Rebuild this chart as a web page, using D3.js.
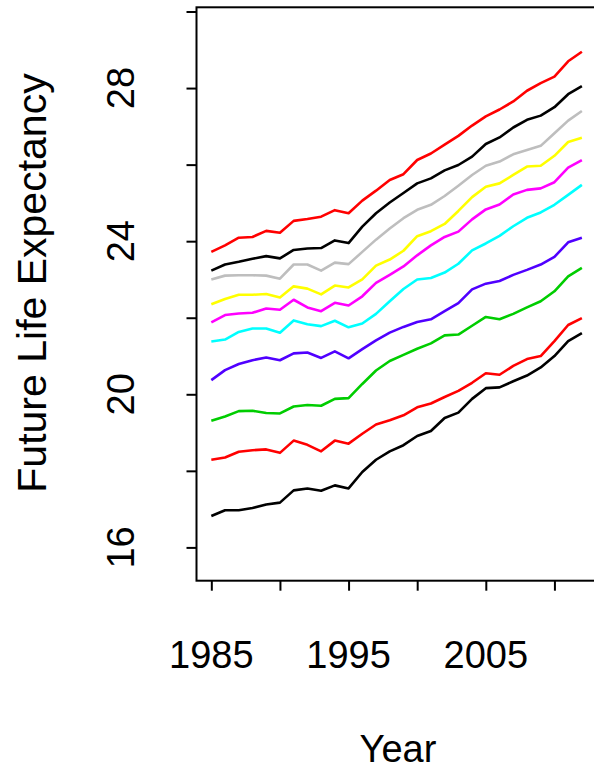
<!DOCTYPE html>
<html>
<head>
<meta charset="utf-8">
<script src="https://cdn.jsdelivr.net/npm/d3@7"></script>
<style>
  html, body { margin: 0; padding: 0; background: #fff; }
  svg { display: block; }
  text { font-family: "Liberation Sans", Arial, sans-serif; fill: #000; }
</style>
</head>
<body>
<svg id="chart" width="594" height="769"></svg>
<script>
// Years observed
const years = d3.range(1985, 2013);

// Future life expectancy per cohort, lowest to highest
const cohort1  = [16.82,16.97,16.97,17.03,17.12,17.17,17.49,17.54,17.48,17.62,17.54,17.97,18.29,18.51,18.67,18.91,19.04,19.38,19.52,19.88,20.16,20.18,20.34,20.49,20.70,21.00,21.39,21.60];
const cohort2  = [18.29,18.35,18.50,18.54,18.56,18.47,18.79,18.68,18.51,18.79,18.71,18.97,19.21,19.32,19.45,19.66,19.76,19.93,20.09,20.30,20.55,20.51,20.74,20.92,21.00,21.39,21.81,21.99];
const cohort3  = [19.31,19.42,19.56,19.57,19.51,19.50,19.68,19.72,19.70,19.88,19.90,20.27,20.62,20.87,21.03,21.19,21.33,21.54,21.56,21.79,22.02,21.96,22.10,22.27,22.43,22.69,23.08,23.30];
const cohort4  = [20.37,20.63,20.79,20.89,20.96,20.89,21.07,21.09,20.95,21.12,20.94,21.18,21.41,21.61,21.76,21.89,21.96,22.17,22.38,22.74,22.89,22.96,23.12,23.25,23.39,23.59,23.97,24.09];
const cohort5  = [21.38,21.43,21.63,21.72,21.72,21.61,21.93,21.83,21.78,21.92,21.75,21.85,22.10,22.43,22.75,23.00,23.04,23.18,23.41,23.76,23.94,24.14,24.39,24.61,24.75,24.95,25.21,25.47];
const cohort6  = [21.88,22.07,22.11,22.13,22.24,22.21,22.47,22.27,22.17,22.39,22.32,22.56,22.91,23.12,23.34,23.63,23.89,24.11,24.25,24.57,24.83,24.96,25.22,25.34,25.38,25.54,25.92,26.12];
const cohort7  = [22.35,22.49,22.60,22.60,22.62,22.53,22.82,22.76,22.61,22.84,22.79,23.00,23.36,23.52,23.75,24.13,24.26,24.45,24.79,25.15,25.42,25.51,25.73,25.95,25.97,26.23,26.59,26.70];
const cohort8  = [23.00,23.10,23.11,23.11,23.10,23.02,23.39,23.39,23.23,23.44,23.40,23.72,24.04,24.33,24.60,24.82,24.95,25.18,25.45,25.73,25.97,26.08,26.27,26.38,26.49,26.82,27.15,27.40];
const cohort9  = [23.23,23.39,23.46,23.54,23.61,23.55,23.77,23.81,23.82,24.02,23.95,24.38,24.73,25.01,25.26,25.51,25.64,25.85,25.99,26.21,26.54,26.71,26.97,27.17,27.28,27.50,27.84,28.05];
const cohort10 = [23.72,23.89,24.09,24.11,24.27,24.22,24.53,24.58,24.64,24.81,24.73,25.06,25.32,25.60,25.75,26.12,26.29,26.52,26.75,27.02,27.26,27.44,27.65,27.93,28.13,28.30,28.70,28.95];

const seriesValues = [cohort1, cohort2, cohort3, cohort4, cohort5, cohort6, cohort7, cohort8, cohort9, cohort10];
const seriesColors = ["#000000", "#FF0000", "#00CD00", "#5000FF", "#00FFFF", "#FF00FF", "#FFFF00", "#BEBEBE", "#000000", "#FF0000"];

// Axis ticks and labels
const xTicks = [1985, 1990, 1995, 2000, 2005, 2010];
const xTickLabels = [1985, 1995, 2005];
const yTicks = [16, 18, 20, 22, 24, 26, 28, 30];
const yTickLabels = [16, 20, 24, 28];

const svg = d3.select("#chart");

// Plot region (the right edge runs just past the window)
const plotLeft = 196.5, plotRight = 596.7, plotTop = 7.3, plotBottom = 580.7;

const x = d3.scaleLinear().domain([1985 - 1.08, 2012 + 1.08]).range([plotLeft, plotRight]);
const y = d3.scaleLinear().domain([15.13, 30.11]).range([plotBottom, plotTop]);

// Lines
const line = d3.line()
  .x((d, i) => x(years[i]))
  .y(d => y(d));

svg.append("g")
  .selectAll("path")
  .data(seriesValues)
  .join("path")
  .attr("d", d => line(d))
  .attr("fill", "none")
  .attr("stroke", (d, i) => seriesColors[i])
  .attr("stroke-width", 2.6)
  .attr("stroke-linejoin", "round");

// Frame
svg.append("rect")
  .attr("x", plotLeft).attr("y", plotTop)
  .attr("width", plotRight - plotLeft).attr("height", plotBottom - plotTop)
  .attr("fill", "none").attr("stroke", "#000").attr("stroke-width", 2);

// Y axis ticks
const yAxis = d3.axisLeft(y).tickValues(yTicks).tickSize(10).tickFormat("");
const gy = svg.append("g").attr("transform", `translate(${plotLeft},0)`).call(yAxis);
gy.select(".domain").remove();
gy.selectAll(".tick line").attr("stroke", "#000").attr("stroke-width", 2);

// Y tick labels, rotated like the axis
svg.append("g")
  .selectAll("text")
  .data(yTickLabels)
  .join("text")
  .attr("transform", d => `translate(134,${y(d)}) rotate(-90)`)
  .attr("text-anchor", "middle")
  .attr("font-size", 38)
  .text(d => d);

// X axis ticks
const xAxis = d3.axisBottom(x).tickValues(xTicks).tickSize(10).tickFormat("");
const gx = svg.append("g").attr("transform", `translate(0,${plotBottom})`).call(xAxis);
gx.select(".domain").remove();
gx.selectAll(".tick line").attr("stroke", "#000").attr("stroke-width", 2);

svg.append("g")
  .selectAll("text")
  .data(xTickLabels)
  .join("text")
  .attr("x", d => x(d))
  .attr("y", 668)
  .attr("text-anchor", "middle")
  .attr("font-size", 38)
  .text(d => d);

// Axis titles
svg.append("text")
  .attr("x", 398)
  .attr("y", 762)
  .attr("text-anchor", "middle")
  .attr("font-size", 38)
  .text("Year");

svg.append("text")
  .attr("transform", `translate(46,283) rotate(-90)`)
  .attr("text-anchor", "middle")
  .attr("font-size", 41)
  .text("Future Life Expectancy");
</script>
</body>
</html>
